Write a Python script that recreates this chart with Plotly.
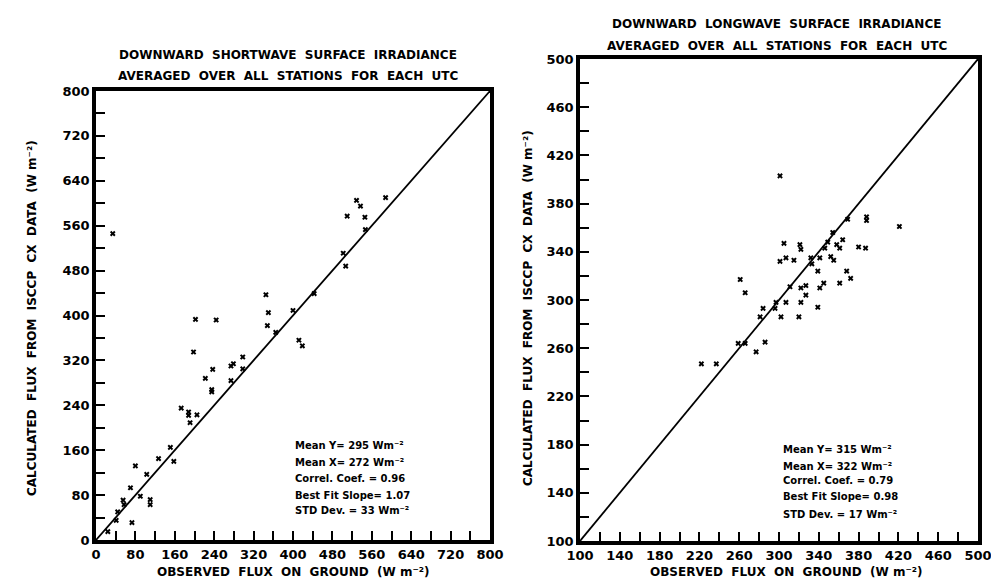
import plotly.graph_objects as go

# ---------------- data ----------------
# Shortwave: observed (x) vs calculated (y), W m-2
sw_obs = [34, 202, 244, 198, 237, 274, 279, 298, 298, 345, 350, 348, 365, 400, 412, 419,
          443, 502, 507, 510, 529, 537, 546, 547, 588,
          222, 235, 235, 274, 173, 188, 188, 205, 191, 151, 158, 127, 103, 80, 70,
          90, 110, 110, 55, 57, 44, 41, 73, 24]
sw_calc = [546, 393, 392, 335, 304, 310, 314, 326, 305, 437, 405, 382, 370, 409, 356, 346,
           439, 511, 488, 577, 605, 595, 575, 553, 610,
           288, 268, 264, 284, 235, 228, 222, 223, 209, 165, 140, 145, 117, 132, 93,
           78, 72, 63, 71, 63, 50, 35, 31, 15]

# Longwave: observed (x) vs calculated (y), W m-2
lw_obs = [301, 421, 388, 388, 305, 321, 322, 301, 307, 315, 332, 341, 333, 346, 349, 354,
          358, 361, 364, 369, 352, 355, 380, 387, 339, 368, 372, 361, 345, 341, 327, 322,
          327, 311, 339, 322, 307, 297, 284, 281, 302, 320, 296, 261, 266, 259, 266, 286,
          277, 222, 237]
lw_calc = [403, 361, 369, 366, 347, 346, 342, 332, 335, 333, 335, 335, 330, 343, 348, 356,
           346, 343, 350, 367, 336, 333, 344, 343, 324, 324, 318, 314, 314, 310, 312, 310,
           304, 311, 294, 298, 298, 298, 293, 286, 286, 286, 293, 317, 306, 264, 264, 265,
           257, 247, 247]

sw_line = [0, 800]
lw_line = [100, 500]

sw_ticks = [0, 80, 160, 240, 320, 400, 480, 560, 640, 720, 800]
lw_ticks = [100, 140, 180, 220, 260, 300, 340, 380, 420, 460, 500]

sw_title = ["DOWNWARD  SHORTWAVE  SURFACE  IRRADIANCE",
            "AVERAGED  OVER  ALL  STATIONS  FOR  EACH  UTC"]
lw_title = ["DOWNWARD  LONGWAVE  SURFACE  IRRADIANCE",
            "AVERAGED  OVER  ALL  STATIONS  FOR  EACH  UTC"]
x_label = "OBSERVED  FLUX  ON  GROUND  (W m⁻²)"
y_label = "CALCULATED  FLUX  FROM  ISCCP  CX  DATA  (W m⁻²)"

sw_stats = ["Mean Y= 295 Wm⁻²", "Mean X= 272 Wm⁻²",
            "Correl. Coef. = 0.96", "Best Fit Slope= 1.07", "STD Dev. = 33 Wm⁻²"]
lw_stats = ["Mean Y= 315 Wm⁻²", "Mean X= 322 Wm⁻²",
            "Correl. Coef. = 0.79", "Best Fit Slope= 0.98", "STD Dev. = 17 Wm⁻²"]

# ---------------- figure ----------------
W, H = 999, 582
FONT = "DejaVu Sans"

fig = go.Figure()

mk = dict(symbol="x", size=5, color="black", line=dict(width=0))

fig.add_trace(go.Scatter(x=sw_obs, y=sw_calc, mode="markers", marker=mk,
                         xaxis="x", yaxis="y", showlegend=False))
fig.add_trace(go.Scatter(x=sw_line, y=sw_line, mode="lines",
                         line=dict(color="black", width=1.8),
                         xaxis="x", yaxis="y", showlegend=False))
fig.add_trace(go.Scatter(x=lw_obs, y=lw_calc, mode="markers", marker=mk,
                         xaxis="x2", yaxis="y2", showlegend=False))
fig.add_trace(go.Scatter(x=lw_line, y=lw_line, mode="lines",
                         line=dict(color="black", width=1.8),
                         xaxis="x2", yaxis="y2", showlegend=False))

def px(x):
    return x / W

def py(y):
    return 1 - y / H

tickfont = dict(family=FONT, size=13, color="black", weight="bold")

def axis(domain, rng, ticks, minor_dtick, anchor):
    return dict(domain=domain, range=rng, tickvals=ticks,
                ticktext=[str(t) for t in ticks],
                showgrid=False, zeroline=False, showline=True, mirror=True,
                linecolor="black", linewidth=3.5,
                ticks="inside", ticklen=9, tickwidth=2, tickcolor="black",
                minor=dict(dtick=minor_dtick, tick0=rng[0], ticks="inside",
                           ticklen=9, tickwidth=2, tickcolor="black", showgrid=False),
                tickfont=tickfont, anchor=anchor, automargin=False, fixedrange=True)

fig.update_layout(
    width=W, height=H,
    margin=dict(l=0, r=0, t=0, b=0),
    paper_bgcolor="white", plot_bgcolor="white",
    xaxis=axis([px(88), px(482)], [0, 800], sw_ticks, 40, "y"),
    yaxis=axis([py(532), py(83)], [0, 800], sw_ticks, 40, "x"),
    xaxis2=axis([px(572), px(970)], [100, 500], lw_ticks, 20, "y2"),
    yaxis2=axis([py(533), py(51)], [100, 500], lw_ticks, 20, "x2"),
    font=dict(family=FONT, color="black"),
)

ann = []
tf = dict(family=FONT, size=12, color="black", weight="bold")

# titles
ann.append(dict(x=px(280), y=py(47), text=sw_title[0], font=tf))
ann.append(dict(x=px(280), y=py(68), text=sw_title[1], font=tf))
ann.append(dict(x=px(768), y=py(16), text=lw_title[0], font=tf))
ann.append(dict(x=px(769), y=py(38), text=lw_title[1], font=tf))
# axis titles
ann.append(dict(x=px(285), y=py(564), text=x_label, font=tf))
ann.append(dict(x=px(778), y=py(564), text=x_label, font=tf))
ann.append(dict(x=px(24), y=py(310), text=y_label, textangle=-90, font=tf))
ann.append(dict(x=px(520), y=py(300), text=y_label, textangle=-90, font=tf))

for a in ann:
    a.update(xref="paper", yref="paper", showarrow=False,
             xanchor="center", yanchor="middle")

sf = dict(family=FONT, size=10, color="black", weight="bold")
sw_y = [437, 454, 470, 487, 502]
lw_y = [441, 458, 472, 488, 506]
for t, yy in zip(sw_stats, sw_y):
    ann.append(dict(x=px(285), y=py(yy), text=t, xref="paper", yref="paper",
                    showarrow=False, font=sf, xanchor="left", yanchor="middle"))
for t, yy in zip(lw_stats, lw_y):
    ann.append(dict(x=px(773), y=py(yy), text=t, xref="paper", yref="paper",
                    showarrow=False, font=sf, xanchor="left", yanchor="middle"))

fig.update_layout(annotations=ann)

fig.write_html("out.html")
